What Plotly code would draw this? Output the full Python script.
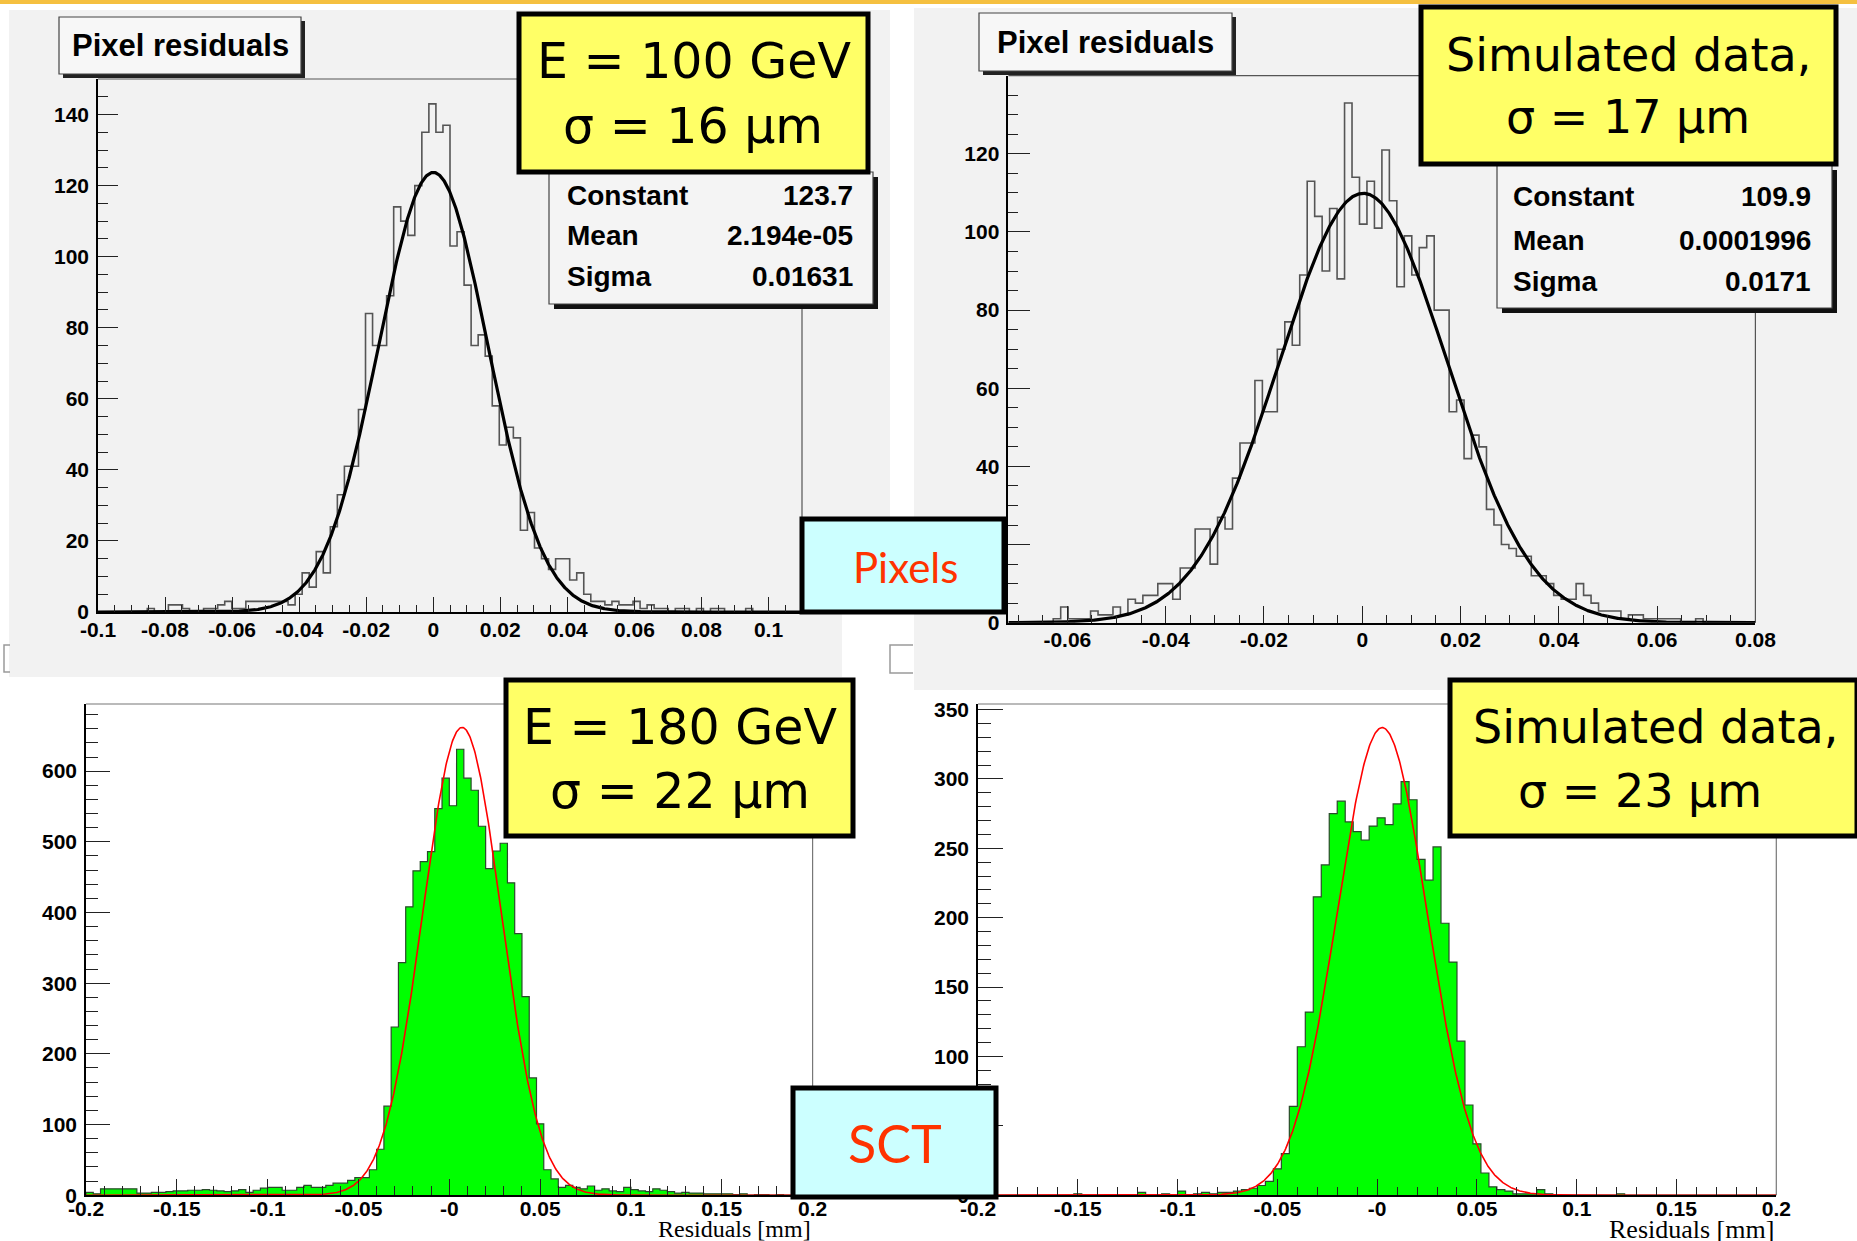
import numpy as np
import plotly.graph_objects as go

W, H = 1857, 1241

# ---------------- data ----------------
stat_names = ["Constant", "Mean", "Sigma"]

# Top-left: pixel residuals, E = 100 GeV (100 bins)
pix100_bin_lo = -0.1
pix100_bin_w = 0.0021
pix100_counts = [0, 0, 0, 0, 0, 0, 0, 1, 0, 0,
                 2, 2, 1, 0, 0, 1, 1, 2, 3, 1,
                 1, 3, 3, 3, 3, 3, 3, 2, 5, 11,
                 7, 17, 11, 24, 33, 41, 41, 57, 84, 75,
                 75, 89, 114, 110, 106, 120, 135, 143, 135, 137,
                 103, 107, 92, 75, 78, 72, 58, 47, 52, 49,
                 23, 28, 18, 15, 12, 15, 15, 9, 11, 5,
                 3, 3, 2, 3, 2, 2, 3, 1, 2, 1,
                 1, 0, 1, 1, 0, 1, 0, 1, 1, 0,
                 0, 0, 1, 0, 0, 0, 0, 0, 0, 0]
pix100_fit_constant = 123.7
pix100_fit_mean = 2.194e-05
pix100_fit_sigma = 0.01631
pix100_stat_vals = ["123.7", "2.194e-05", "0.01631"]

# Top-right: pixel residuals, simulated data
pixsim_bin_lo = -0.072
pixsim_bin_w = 0.00152
pixsim_counts = [0, 0, 0, 0, 0, 0, 1, 4, 1, 1,
                 1, 3, 2, 2, 4, 2, 6, 5, 7, 7,
                 10, 10, 6, 14, 14, 24, 24, 15, 27, 24,
                 37, 46, 46, 62, 54, 54, 70, 77, 71, 89,
                 113, 104, 90, 106, 88, 133, 114, 102, 113, 101,
                 121, 108, 86, 99, 89, 96, 99, 80, 80, 54,
                 57, 42, 48, 45, 29, 25, 20, 19, 17, 17,
                 12, 12, 10, 7, 6, 6, 10, 7, 5, 3,
                 3, 3, 1, 2, 2, 1, 1, 1, 1, 1,
                 0, 0, 1, 0, 0, 0, 0, 0, 0, 0]
pixsim_fit_constant = 109.9
pixsim_fit_mean = 0.0001996
pixsim_fit_sigma = 0.0171
pixsim_stat_vals = ["109.9", "0.0001996", "0.0171"]

# Bottom-left: SCT residuals, E = 180 GeV
sct180_bin_lo = -0.2
sct180_bin_w = 0.004
sct180_counts = [4, 2, 9, 9, 9, 9, 9, 3, 3, 4,
                 4, 5, 6, 6, 7, 7, 8, 7, 6, 5,
                 6, 8, 4, 7, 10, 11, 11, 7, 7, 11,
                 14, 11, 11, 14, 17, 17, 21, 25, 25, 36,
                 65, 126, 238, 329, 408, 459, 472, 486, 547, 590,
                 551, 631, 590, 573, 522, 462, 487, 498, 442, 370,
                 281, 166, 101, 36, 23, 11, 14, 11, 9, 13,
                 7, 9, 6, 5, 11, 8, 6, 5, 9, 7,
                 5, 3, 4, 3, 3, 2, 2, 2, 2, 1,
                 2, 0, 1, 1, 0, 1, 0, 0, 0, 0]
sct180_fit_constant = 662
sct180_fit_mean = 0.007
sct180_fit_sigma = 0.0215

# Bottom-right: SCT residuals, simulated data
sctsim_bin_lo = -0.2
sctsim_bin_w = 0.004
sctsim_counts = [0, 0, 0, 0, 0, 0, 0, 0, 0, 0,
                 0, 0, 1, 0, 0, 0, 0, 0, 0, 0,
                 2, 0, 0, 1, 0, 3, 0, 1, 2, 1,
                 2, 2, 3, 4, 5, 7, 10, 19, 30, 64,
                 107, 132, 215, 238, 275, 284, 269, 262, 256, 266,
                 272, 267, 282, 298, 285, 242, 227, 251, 196, 168,
                 111, 65, 37, 16, 6, 4, 3, 1, 1, 1,
                 4, 1, 0, 0, 0, 0, 0, 0, 0, 0,
                 1, 0, 0, 0, 0, 0, 0, 0, 0, 0,
                 0, 0, 0, 0, 0, 0, 0, 0, 0, 0]
sctsim_fit_constant = 337
sctsim_fit_mean = 0.0025
sctsim_fit_sigma = 0.0225

# tick labels
pix100_xtick_vals = [-0.1, -0.08, -0.06, -0.04, -0.02, 0, 0.02, 0.04, 0.06, 0.08, 0.1]
pix100_xtick_text = ["-0.1", "-0.08", "-0.06", "-0.04", "-0.02", "0", "0.02", "0.04", "0.06", "0.08", "0.1"]
pix100_ytick_vals = [0, 20, 40, 60, 80, 100, 120, 140]
pixsim_xtick_vals = [-0.06, -0.04, -0.02, 0, 0.02, 0.04, 0.06, 0.08]
pixsim_xtick_text = ["-0.06", "-0.04", "-0.02", "0", "0.02", "0.04", "0.06", "0.08"]
pixsim_ytick_vals = [0, 20, 40, 60, 80, 100, 120]
sct_xtick_vals = [-0.2, -0.15, -0.1, -0.05, 0, 0.05, 0.1, 0.15, 0.2]
sct_xtick_text = ["-0.2", "-0.15", "-0.1", "-0.05", "-0", "0.05", "0.1", "0.15", "0.2"]
sct180_ytick_vals = [0, 100, 200, 300, 400, 500, 600]
sctsim_ytick_vals = [0, 50, 100, 150, 200, 250, 300, 350]

x_title = "Residuals [mm]"

# ---------------- helpers ----------------
def px(x):
    return x / W

def py(y):
    return 1 - y / H

def hist_xy(lo, w, counts):
    c = np.asarray(counts, dtype=float)
    edges = lo + w * np.arange(len(c) + 1)
    x = np.concatenate([[edges[0]], edges[:-1], [edges[-1], edges[-1]]])
    y = np.concatenate([[0], c, [c[-1], 0]])
    return x, y

def gaus(xs, c, m, s):
    return c * np.exp(-0.5 * ((xs - m) / s) ** 2)

fig = go.Figure()

TICKFONT = dict(family="Liberation Sans, Arial, sans-serif", size=21, color="black", weight="bold")

panels = [
    dict(ax="", lo=pix100_bin_lo, w=pix100_bin_w, counts=pix100_counts,
         fit=(pix100_fit_constant, pix100_fit_mean, pix100_fit_sigma),
         xr=(-0.1, 0.11), yr=(0, 150), dx=(98, 802), dy=(79, 612),
         xt=(pix100_xtick_vals, pix100_xtick_text), yt=pix100_ytick_vals,
         xminor=np.arange(-0.1, 0.1101, 0.005), yminor=np.arange(0, 150.1, 5),
         xlen=(15, 7), ylen=(20, 10), fill=None, hcol="#555555", fcol="black", fw=3.2,
         frame="#555555", xstand=-2),
    dict(ax="2", lo=pixsim_bin_lo, w=pixsim_bin_w, counts=pixsim_counts,
         fit=(pixsim_fit_constant, pixsim_fit_mean, pixsim_fit_sigma),
         xr=(-0.072, 0.08), yr=(0, 140), dx=(1008.4, 1755.4), dy=(75.7, 622.7),
         xt=(pixsim_xtick_vals, pixsim_xtick_text), yt=pixsim_ytick_vals,
         xminor=np.arange(-0.07, 0.0801, 0.005), yminor=np.arange(0, 140.1, 5),
         xlen=(17, 8), ylen=(22, 10), fill=None, hcol="#555555", fcol="black", fw=3.2,
         frame="#555555", xstand=-3),
    dict(ax="3", lo=sct180_bin_lo, w=sct180_bin_w, counts=sct180_counts,
         fit=(sct180_fit_constant, sct180_fit_mean, sct180_fit_sigma),
         xr=(-0.2, 0.2), yr=(0, 695), dx=(86, 812.6), dy=(704, 1195.2),
         xt=(sct_xtick_vals, sct_xtick_text), yt=sct180_ytick_vals,
         xminor=np.arange(-0.2, 0.2001, 0.01), yminor=np.arange(0, 690, 20),
         xlen=(16, 9), ylen=(24, 12), fill="#00ff00", hcol="#2a4a2a", fcol="#ff0000", fw=1.6,
         frame="#777777", xstand=-6),
    dict(ax="4", lo=sctsim_bin_lo, w=sctsim_bin_w, counts=sctsim_counts,
         fit=(sctsim_fit_constant, sctsim_fit_mean, sctsim_fit_sigma),
         xr=(-0.2, 0.2), yr=(0, 354), dx=(978, 1776.3), dy=(704, 1195.2),
         xt=(sct_xtick_vals, sct_xtick_text), yt=sctsim_ytick_vals,
         xminor=np.arange(-0.2, 0.2001, 0.01), yminor=np.arange(0, 354, 10),
         xlen=(16, 8), ylen=(25, 13), fill="#00ff00", hcol="#2a4a2a", fcol="#ff0000", fw=1.6,
         frame="#777777", xstand=-6),
]

shapes = []

# canvases (light grey ROOT pads for top row)
CANVAS = "#f2f2f2"
shapes += [
    dict(type="rect", xref="paper", yref="paper", x0=px(9), x1=px(890), y0=py(614), y1=py(10),
         fillcolor=CANVAS, line=dict(width=0), layer="below"),
    dict(type="rect", xref="paper", yref="paper", x0=px(9), x1=px(842), y0=py(677), y1=py(612),
         fillcolor=CANVAS, line=dict(width=0), layer="below"),
    dict(type="rect", xref="paper", yref="paper", x0=px(914), x1=px(1857), y0=py(690), y1=py(8),
         fillcolor=CANVAS, line=dict(width=0), layer="below"),
    # slide decoration stripe at the top
    dict(type="rect", xref="paper", yref="paper", x0=0, x1=1, y0=py(4), y1=1,
         fillcolor="#f5c040", line=dict(width=0), layer="below"),
    # small window-edge remnants
    dict(type="path", xref="paper", yref="paper",
         path=f"M {px(10)},{py(645)} L {px(4)},{py(645)} L {px(4)},{py(672)} L {px(10)},{py(672)}",
         line=dict(color="#9a9a9a", width=1.5), layer="below"),
    dict(type="path", xref="paper", yref="paper",
         path=f"M {px(913)},{py(645)} L {px(890)},{py(645)} L {px(890)},{py(673)} L {px(913)},{py(673)}",
         line=dict(color="#9a9a9a", width=1.5), layer="below"),
]

layout_axes = {}
for p in panels:
    a = p["ax"]
    xname = "x" + a
    yname = "y" + a
    hx, hy = hist_xy(p["lo"], p["w"], p["counts"])
    if p["fill"]:
        fig.add_trace(go.Scatter(x=hx, y=hy, mode="lines", line=dict(shape="hv", color=p["hcol"], width=1.2),
                                 fill="tozeroy", fillcolor=p["fill"], xaxis=xname, yaxis=yname,
                                 showlegend=False, hoverinfo="skip"))
    else:
        fig.add_trace(go.Scatter(x=hx, y=hy, mode="lines", line=dict(shape="hv", color=p["hcol"], width=1.6),
                                 xaxis=xname, yaxis=yname, showlegend=False, hoverinfo="skip"))
    xs = np.linspace(p["xr"][0], p["xr"][1], 1200)
    fig.add_trace(go.Scatter(x=xs, y=gaus(xs, *p["fit"]), mode="lines",
                             line=dict(color=p["fcol"], width=p["fw"]),
                             xaxis=xname, yaxis=yname, showlegend=False, hoverinfo="skip"))

    xa = dict(domain=[px(p["dx"][0]), px(p["dx"][1])], range=list(p["xr"]), anchor=yname,
              automargin=False,
              showgrid=False, zeroline=False, showline=True, linecolor="black", linewidth=1.6,
              ticks="inside", ticklen=p["xlen"][0], tickwidth=1.4, tickcolor="#222222",
              tickmode="array", tickvals=p["xt"][0], ticktext=p["xt"][1], tickfont=TICKFONT,
              ticklabelstandoff=p["xstand"],
              minor=dict(tickmode="array", tickvals=list(p["xminor"]), ticks="inside",
                         ticklen=p["xlen"][1], tickwidth=1.2, tickcolor="#222222", showgrid=False),
              fixedrange=True)
    ya = dict(domain=[py(p["dy"][1]), py(p["dy"][0])], range=list(p["yr"]), anchor=xname,
              automargin=False,
              showgrid=False, zeroline=False, showline=True, linecolor="black", linewidth=1.6,
              ticks="inside", ticklen=p["ylen"][0], tickwidth=1.4, tickcolor="#222222",
              tickmode="array", tickvals=p["yt"], ticktext=[str(v) for v in p["yt"]], tickfont=TICKFONT,
              ticklabelstandoff=3,
              minor=dict(tickmode="array", tickvals=list(p["yminor"]), ticks="inside",
                         ticklen=p["ylen"][1], tickwidth=1.2, tickcolor="#222222", showgrid=False),
              fixedrange=True)
    layout_axes["xaxis" + a] = xa
    layout_axes["yaxis" + a] = ya

    # frame top & right
    shapes.append(dict(type="path", xref=xname + " domain", yref=yname + " domain",
                       path="M 0,1 L 1,1 L 1,0", line=dict(color=p["frame"], width=1.2), layer="below"))

annotations = []

def rect(x0, y0, x1, y1, fill, lc, lw):
    return dict(type="rect", xref="paper", yref="paper", x0=px(x0), x1=px(x1), y0=py(y1), y1=py(y0),
                fillcolor=fill, line=dict(color=lc, width=lw), layer="above")

def text(x, y, s, size, family, color="black", xanchor="center", weight="normal"):
    annotations.append(dict(x=px(x), y=py(y), xref="paper", yref="paper", text=s, showarrow=False,
                            xanchor=xanchor, yanchor="middle",
                            font=dict(size=size, family=family, color=color, weight=weight)))

SANS = "Liberation Sans, Arial, sans-serif"
BIG = "DejaVu Sans, Verdana, sans-serif"

# stats boxes (shadow + box)
for (x0, y0, x1, y1) in [(549, 172, 873, 304), (1497, 165, 1832, 308)]:
    shapes.append(rect(x0 + 5, y0 + 5, x1 + 5, y1 + 5, "#111111", "#111111", 0))
    shapes.append(rect(x0, y0, x1, y1, "#f4f4f4", "#444444", 1.2))
# title boxes
for (x0, y0, x1, y1) in [(59, 17, 301, 74), (979, 13, 1232, 71)]:
    shapes.append(rect(x0 + 4, y0 + 4, x1 + 4, y1 + 4, "#222222", "#222222", 0))
    shapes.append(rect(x0, y0, x1, y1, "#f7f7f7", "#444444", 1.2))
# yellow boxes
YEL = "#ffff66"
for (x0, y0, x1, y1) in [(519, 14, 868, 172), (1421, 7, 1836, 164), (506, 680, 853, 836), (1450, 680, 1857, 836)]:
    shapes.append(rect(x0, y0, x1, y1, YEL, "black", 5))
# cyan boxes
CYAN = "#ccffff"
for (x0, y0, x1, y1) in [(802, 519, 1004, 612), (793, 1088, 996, 1197)]:
    shapes.append(rect(x0, y0, x1, y1, CYAN, "black", 5))

# titles
text(180, 45, "Pixel residuals", 31, SANS, weight="bold")
text(1105, 42, "Pixel residuals", 31, SANS, weight="bold")

# stats text
for (lx, rx, ys, vals) in [(565, 855, (196, 236, 276), pix100_stat_vals),
                            (1511, 1813, (197, 240, 281), pixsim_stat_vals)]:
    for name, val, yy in zip(stat_names, vals, ys):
        text(lx, yy, name, 28, SANS, xanchor="left", weight="bold")
        text(rx, yy, val, 28, SANS, xanchor="right", weight="bold")

# yellow box texts
text(694, 62, "E = 100 GeV", 49, BIG)
text(693, 127, "σ = 16 µm", 49, BIG)
text(1628, 55, "Simulated data,", 46, BIG)
text(1628, 117, "σ = 17 µm", 46, BIG)
text(680, 727, "E = 180 GeV", 49, BIG)
text(680, 791, "σ = 22 µm", 49, BIG)
text(1655, 727, "Simulated data,", 46, BIG)
text(1640, 791, "σ = 23 µm", 46, BIG)

# cyan box texts
text(905, 567, "Pixels", 42, "Lato, DejaVu Sans, sans-serif", color="#ff3300")
text(895, 1143, "SCT", 52, "Lato, DejaVu Sans, sans-serif", color="#ff3300")

# x axis titles
text(812.6, 1229, x_title, 24, "Liberation Serif, Times New Roman, serif", xanchor="right")
text(1776.3, 1229, x_title, 26, "Liberation Serif, Times New Roman, serif", xanchor="right")

fig.update_layout(width=W, height=H, margin=dict(l=0, r=0, t=0, b=0, pad=0, autoexpand=False),
                  paper_bgcolor="white", plot_bgcolor="rgba(0,0,0,0)",
                  shapes=shapes, annotations=annotations, showlegend=False, **layout_axes)

fig.write_html("out.html", config=dict(displayModeBar=False),
               post_script="document.body.style.margin='0';document.body.style.overflow='hidden';")
